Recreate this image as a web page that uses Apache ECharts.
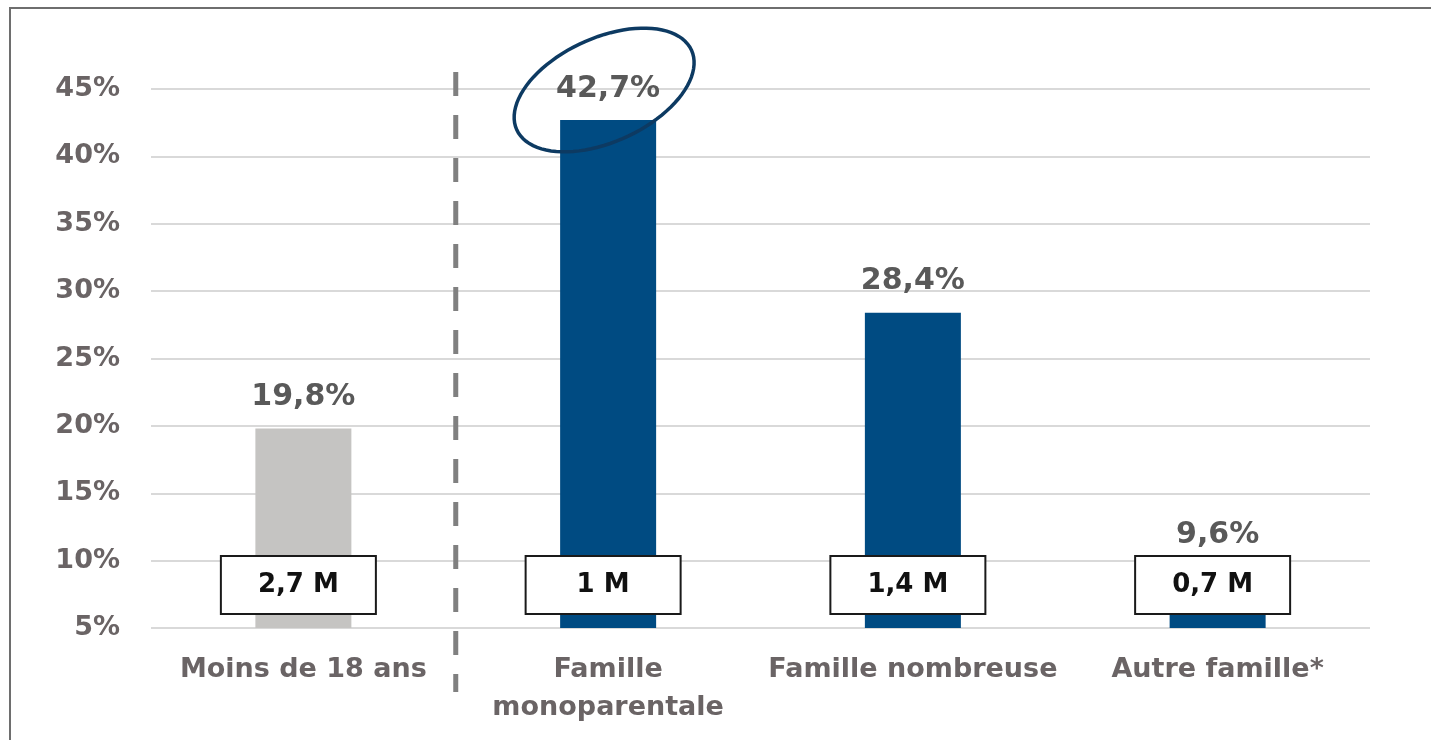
<!DOCTYPE html>
<html>
<head>
    <meta charset="utf-8" />
    <script src="https://cdn.jsdelivr.net/npm/echarts@6/dist/echarts.min.js"></script>
    <title>Taux de pauvreté</title>
    <style>
        html, body { margin: 0; padding: 0; background: #fff; }
        #chart { width: 1431px; height: 740px; }
    </style>
</head>
<body>
    <div id="chart"></div>
<script type="text/javascript">
// categories and values
var categories = ['Moins de 18 ans', 'Famille\nmonoparentale', 'Famille nombreuse', 'Autre famille*'];
var rates = [19.8, 42.7, 28.4, 9.6];
var people = ['2,7 M', '1 M', '1,4 M', '0,7 M'];
var yTicks = [5, 45, 5]; // min, max, interval

var FONT = 'DejaVu Sans';
var GREY = '#c5c4c2';
var BLUE = '#004b82';

var chart = echarts.init(document.getElementById('chart'));

// bars: first one in grey, the families in blue
var barData = rates.map(function (v, i) {
    return { value: v, itemStyle: { color: i === 0 ? GREY : BLUE } };
});

chart.setOption({
    animation: false,
    backgroundColor: '#fff',
    grid: { left: 151, right: 61, top: 89, bottom: 112 },
    graphic: [{
        // outer frame
        type: 'rect',
        silent: true,
        shape: { x: 10, y: 8, width: 1440, height: 760 },
        style: { fill: 'none', stroke: '#6e6e6e', lineWidth: 2 }
    }],
    xAxis: {
        type: 'category',
        data: categories,
        axisLine: { show: false },
        axisTick: { show: false },
        axisLabel: {
            interval: 0,
            margin: 23,
            color: '#6a6465',
            fontFamily: FONT,
            fontWeight: 'bold',
            fontSize: 27,
            lineHeight: 38
        }
    },
    yAxis: {
        type: 'value',
        min: yTicks[0],
        max: yTicks[1],
        interval: yTicks[2],
        axisLine: { show: false },
        axisTick: { show: false },
        splitLine: { lineStyle: { color: '#d9d9d9', width: 2 } },
        axisLabel: {
            margin: 31,
            color: '#6a6465',
            fontFamily: FONT,
            fontWeight: 'bold',
            fontSize: 27,
            formatter: '{value}%'
        }
    },
    series: [{
        type: 'bar',
        data: barData,
        barWidth: 96,
        label: {
            show: true,
            position: 'top',
            distance: 16,
            color: '#595959',
            fontFamily: FONT,
            fontWeight: 'bold',
            fontSize: 30,
            formatter: function (p) {
                return String(p.value).replace('.', ',') + '%';
            }
        }
    }, {
        // transparent copy carrying the population boxes
        type: 'bar',
        data: rates,
        barWidth: 96,
        barGap: '-100%',
        silent: true,
        itemStyle: { color: 'transparent' },
        label: {
            show: true,
            position: 'insideBottom',
            distance: 15,
            offset: [-5, 0],
            width: 153,
            height: 56,
            lineHeight: 56,
            align: 'center',
            backgroundColor: '#fff',
            borderColor: '#1a1a1a',
            borderWidth: 2,
            color: '#111',
            fontFamily: FONT,
            fontWeight: 'bold',
            fontSize: 26,
            formatter: function (p) {
                return people[p.dataIndex];
            }
        }
    }, {
        // dashed separator between the first category and the families
        type: 'custom',
        silent: true,
        data: [[0, yTicks[1]]],
        renderItem: function (params, api) {
            var a = api.coord([0, yTicks[1]]);
            var b = api.coord([1, yTicks[0]]);
            var x = (a[0] + b[0]) / 2;
            return {
                type: 'line',
                shape: { x1: x, y1: a[1] - 17, x2: x, y2: b[1] + 64 },
                style: { stroke: '#808080', lineWidth: 5, lineDash: [24, 19] }
            };
        }
    }, {
        // ellipse highlighting the single-parent rate
        type: 'custom',
        silent: true,
        z: 5,
        data: [[1, rates[1]]],
        renderItem: function (params, api) {
            var c = api.coord([api.value(0), api.value(1)]);
            var cx = c[0] - 4, cy = c[1] - 30;
            var a = 96, b = 52, t = -24.5 * Math.PI / 180;
            var pts = [];
            for (var k = 0; k < 90; k++) {
                var u = k / 90 * Math.PI * 2;
                var ex = a * Math.cos(u), ey = b * Math.sin(u);
                pts.push([cx + ex * Math.cos(t) - ey * Math.sin(t),
                          cy + ex * Math.sin(t) + ey * Math.cos(t)]);
            }
            return {
                type: 'polygon',
                shape: { points: pts },
                style: { fill: 'transparent', stroke: '#0d3a62', lineWidth: 3.5 }
            };
        }
    }]
});
</script>
</body>
</html>
